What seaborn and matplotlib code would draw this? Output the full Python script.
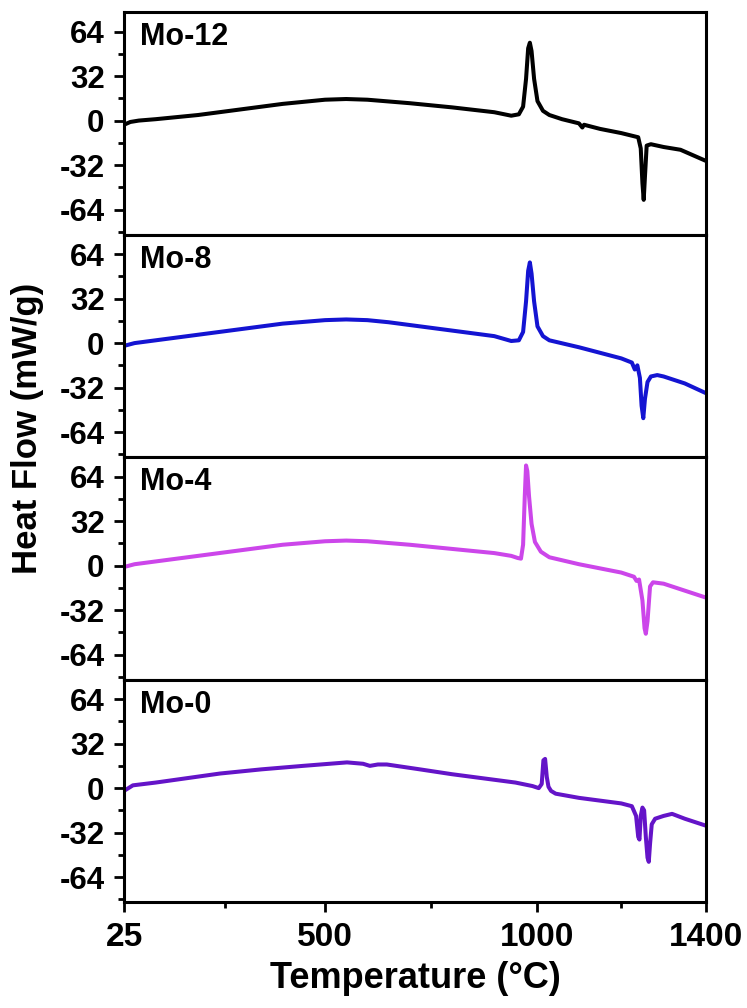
import matplotlib
matplotlib.use('Agg')
import matplotlib.pyplot as plt
import numpy as np
import pandas as pd
import seaborn as sns

# DSC traces (temperature in degC, heat flow in mW/g)
SAMPLES = ['Mo-12', 'Mo-8', 'Mo-4', 'Mo-0']
COLORS = ['#000000', '#1414d2', '#cc46ea', '#6414c8']

mo12_temp = [25, 40, 60, 100, 200, 300, 400, 500, 550, 600, 700, 800, 900,
             940, 958, 968, 975, 980, 984, 988, 994, 1002, 1015, 1030, 1060,
             1100, 1108, 1112, 1150, 1200, 1240, 1246, 1250, 1253, 1256, 1260,
             1270, 1300, 1340, 1370, 1400]
mo12_flow = [-3, -1, 0, 1, 4, 8, 12, 15, 15.5, 15, 12.5, 9.5, 6,
             3.5, 4.5, 10, 30, 52, 56, 50, 30, 14, 7, 4, 1,
             -2, -5, -3, -6, -9, -12, -20, -45, -57, -40, -18,
             -17, -19, -21, -25, -29]

mo8_temp = [25, 50, 100, 200, 300, 400, 500, 550, 600, 650, 700, 800, 900,
            940, 958, 968, 975, 980, 984, 988, 994, 1002, 1015, 1030, 1100,
            1150, 1200, 1225, 1232, 1238, 1244, 1248, 1252, 1256, 1262, 1270,
            1285, 1300, 1350, 1400]
mo8_flow = [-2, 0, 2, 6, 10, 14, 16.5, 17, 16.5, 15, 13, 9, 5,
            1.5, 2, 8, 30, 52, 58, 50, 30, 12, 5, 2, -3,
            -7, -11, -14, -19, -16, -25, -45, -54, -40, -28, -24,
            -23, -24, -29, -36]

mo4_temp = [25, 50, 100, 200, 300, 400, 500, 550, 600, 700, 800, 900, 940,
            955, 963, 968, 972, 975, 978, 982, 988, 996, 1010, 1030, 1100,
            1200, 1230, 1236, 1242, 1250, 1255, 1258, 1262, 1268, 1275, 1300,
            1350, 1400]
mo4_flow = [-1, 1, 3, 7, 11, 15, 17.5, 18, 17.5, 15, 12, 9, 7,
            5.5, 5, 15, 50, 72, 68, 50, 30, 17, 10, 6, 1,
            -5, -8, -11, -10, -25, -45, -49, -40, -15, -12, -13,
            -18, -23]

mo0_temp = [25, 46, 100, 252, 350, 448, 552, 590, 606, 625, 646, 724, 800,
            900, 950, 990, 1005, 1012, 1016, 1020, 1024, 1028, 1034, 1045,
            1100, 1150, 1200, 1225, 1235, 1240, 1243, 1246, 1250, 1254, 1258,
            1262, 1265, 1268, 1272, 1280, 1300, 1320, 1350, 1400]
mo0_flow = [-2, 2, 4, 10.5, 13.5, 16, 18.5, 17.5, 16, 17, 17, 13.5, 10,
            6, 4, 1.5, 0, 3, 20, 21, 8, 1, -2, -4,
            -7, -9, -11, -13, -20, -35, -37, -20, -14, -16, -35,
            -50, -53, -40, -26, -22, -20, -18.5, -22, -27]

TEMPS = [mo12_temp, mo8_temp, mo4_temp, mo0_temp]
FLOWS = [mo12_flow, mo8_flow, mo4_flow, mo0_flow]

sns.set_style('ticks')
plt.rcParams['font.family'] = ['Liberation Sans', 'DejaVu Sans']
plt.rcParams['font.weight'] = 'bold'
plt.rcParams['text.color'] = 'black'
plt.rcParams['xtick.color'] = 'black'
plt.rcParams['ytick.color'] = 'black'
plt.rcParams['axes.labelcolor'] = 'black'
plt.rcParams['axes.unicode_minus'] = False

fig, axes = plt.subplots(4, 1, sharex=True, figsize=(7.47, 10.08), dpi=100)
fig.subplots_adjust(left=0.166, right=0.945, top=0.988, bottom=0.105, hspace=0)

for ax, name, color, temp, flow in zip(axes, SAMPLES, COLORS, TEMPS, FLOWS):
    df = pd.DataFrame({'Temperature': temp, 'Heat Flow': flow})
    sns.lineplot(data=df, x='Temperature', y='Heat Flow', ax=ax,
                 color=color, linewidth=2.9, sort=False)
    ax.set_xlim(25, 1400)
    ax.set_ylim(-82, 78)
    ax.set_yticks([-64, -32, 0, 32, 64])
    ax.set_yticks([-80, -48, -16, 16, 48], minor=True)
    ax.set_xticks([25, 500, 1000, 1400])
    ax.set_xticks([262.5, 750, 1200], minor=True)
    ax.set_xlabel('')
    ax.set_ylabel('')
    for side in ['top', 'bottom', 'left', 'right']:
        ax.spines[side].set_visible(True)
        ax.spines[side].set_linewidth(2.2)
        ax.spines[side].set_color('black')
    ax.tick_params(axis='both', which='major', direction='out', length=7,
                   width=2, labelsize=22.5, pad=7)
    ax.tick_params(axis='both', which='minor', direction='out', length=4,
                   width=2)
    ax.tick_params(axis='x', which='both', bottom=False, labelbottom=False)
    for lbl in ax.get_yticklabels():
        lbl.set_fontweight('bold')
    ax.text(0.027, 0.955, name, transform=ax.transAxes, ha='left', va='top',
            fontsize=22, fontweight='bold')

bottom_ax = axes[-1]
bottom_ax.tick_params(axis='x', which='both', bottom=True, labelbottom=True)
bottom_ax.tick_params(axis='x', which='major', labelsize=24, pad=7)
for lbl in bottom_ax.get_xticklabels():
    lbl.set_fontweight('bold')
bottom_ax.set_xlabel('Temperature (°C)', fontsize=26, fontweight='bold',
                     labelpad=6)

fig.text(0.037, 0.575, 'Heat Flow (mW/g)', rotation=90, ha='center',
         va='center', fontsize=25, fontweight='bold')

fig.savefig('out.png', dpi=100)
